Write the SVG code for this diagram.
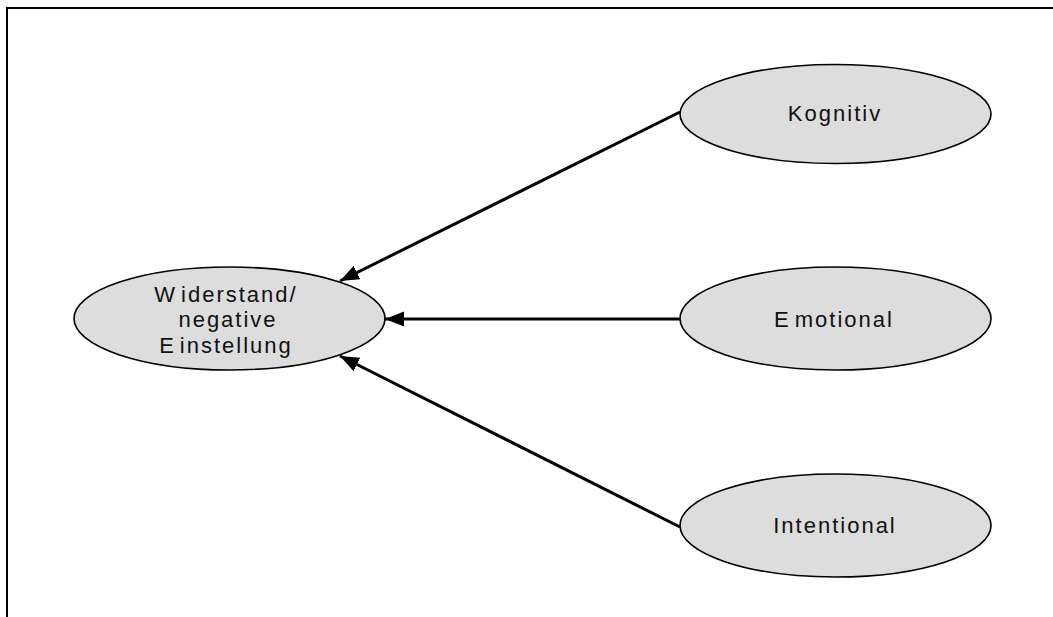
<svg xmlns="http://www.w3.org/2000/svg" width="1053" height="617" viewBox="0 0 1053 617">
  <style>
    .node { fill: #dddddd; stroke: #000000; stroke-width: 1.6; }
    .label { font-family: "Liberation Sans", Arial, sans-serif; font-size: 22px; letter-spacing: 2px; fill: #111111; text-anchor: middle; }
    .edge { stroke: #000000; stroke-width: 3; fill: none; marker-end: url(#head); }
    .frame { stroke: #000000; stroke-width: 2; fill: none; }
  </style>
  <defs>
    <marker id="head" markerUnits="userSpaceOnUse" markerWidth="22" markerHeight="16" refX="19" refY="7.5" orient="auto">
      <path d="M0,0 L19,7.5 L0,15 Z" fill="#000000"/>
    </marker>
  </defs>

  <!-- open frame: top and left edges -->
  <path class="frame" d="M7,617 L7,8 L1053,8"/>

  <g id="connectors">
    <line class="edge" x1="680" y1="112" x2="340" y2="281"/>
    <line class="edge" x1="680" y1="319" x2="385" y2="319"/>
    <line class="edge" x1="680" y1="527" x2="340" y2="356"/>
  </g>

  <g id="widerstand">
    <ellipse class="node" cx="229.5" cy="318.5" rx="155.5" ry="51.5"/>
    <text class="label" x="226" y="302">W<tspan dx="4">iderstand/</tspan></text>
    <text class="label" x="228" y="327">negative</text>
    <text class="label" x="226" y="353">E<tspan dx="4">instellung</tspan></text>
  </g>

  <g id="kognitiv">
    <ellipse class="node" cx="835.5" cy="114" rx="155.5" ry="49.5"/>
    <text class="label" x="835" y="121">Kognitiv</text>
  </g>

  <g id="emotional">
    <ellipse class="node" cx="835.5" cy="318.5" rx="155.5" ry="51.5"/>
    <text class="label" x="834" y="327">E<tspan dx="4">motional</tspan></text>
  </g>

  <g id="intentional">
    <ellipse class="node" cx="835.5" cy="525.5" rx="155.5" ry="51.5"/>
    <text class="label" x="835" y="533">Intentional</text>
  </g>
</svg>
